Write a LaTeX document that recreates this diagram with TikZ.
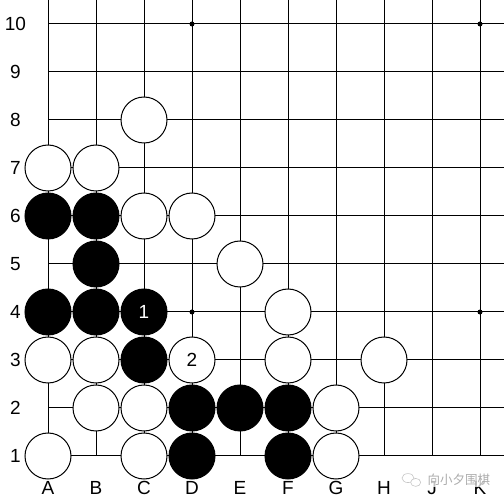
\documentclass[tikz,border=0pt]{standalone}
\usepackage{fontspec}
\setmainfont{Liberation Sans}
\newfontfamily\cjk{Noto Sans CJK SC}
\usetikzlibrary{calc}

\begin{document}
\begin{tikzpicture}[x=48pt,y=48pt,
    whitestone/.style={circle,draw=black,fill=white,line width=1pt,
      minimum size=46pt,inner sep=0pt,font=\fontsize{19}{20}\selectfont},
    blackstone/.style={whitestone,fill=black,text=white},
    coordlabel/.style={font=\fontsize{19}{20}\selectfont}]
    \useasboundingbox (0,0) rectangle (10.5,10.5);
    \fill[white] (0,0) rectangle (10.5,10.5);
    % board lines, cut off at the top and right
    \foreach \i in {1,...,10} {
        \draw[line width=1pt] (\i,1) -- (\i,10.5);
        \draw[line width=1pt] (1,\i) -- (10.5,\i);
    }
    \foreach \x/\y in {4/10,10/10,4/4,10/4}
        \fill (\x,\y) circle (2.5pt);
    % coordinates
    \foreach \l [count=\i] in {A,B,C,D,E,F,G,H,J,K}
        \node[coordlabel] (col\l) at (\i,0.33) {\l};
    \foreach \r in {1,...,10}
        \node[coordlabel] (row\r) at (0.32,\r) {\r};
    % stones
    \foreach \c/\r in {3/8,1/7,2/7,3/6,4/6,5/5,6/4,1/3,2/3,6/3,8/3,2/2,3/2,7/2,1/1,3/1,7/1}
        \node[whitestone] (w\c-\r) at (\c,\r) {};
    \foreach \c/\r in {1/6,2/6,2/5,1/4,2/4,3/3,4/2,5/2,6/2,4/1,6/1}
        \node[blackstone] (b\c-\r) at (\c,\r) {};
    \node[blackstone] (b3-4) at (3,4) {1};
    \node[whitestone] (w4-3) at (4,3) {2};
    % watermark
    \draw[gray!45,line width=0.6pt] (8.5,0.54) ellipse (6pt and 4.5pt);
    \draw[gray!45,line width=0.6pt,fill=white] (8.66,0.45) ellipse (5pt and 4pt);
    \node[text=gray!65,fill=white,fill opacity=0.75,text opacity=1,
      font=\cjk\fontsize{12.5}{13}\selectfont,inner sep=1pt] (mark) at (9.56,0.5) {向小夕围棋};
\end{tikzpicture}
\end{document}
